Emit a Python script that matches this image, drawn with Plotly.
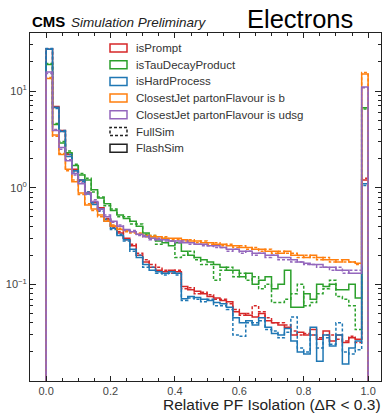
import plotly.graph_objects as go

# ---------------- data ----------------
bin_edges = [round(i * 0.02, 2) for i in range(51)]

categories = ["isPrompt", "isTauDecayProduct", "isHardProcess",
              "ClosestJet partonFlavour is b", "ClosestJet partonFlavour is udsg"]
colors = ["#d62728", "#2ca02c", "#1f77b4", "#ff7f0e", "#9467bd"]

prompt_flash = [27, 6.9, 3.9, 2.2, 1.55, 1.2, 0.88, 0.7, 0.62, 0.47, 0.4, 0.34, 0.3, 0.25, 0.2, 0.17, 0.15, 0.14, 0.135, 0.14,
                0.135, 0.095, 0.088, 0.085, 0.08, 0.075, 0.072, 0.068, 0.066, 0.052, 0.05, 0.048, 0.046, 0.05, 0.042, 0.04, 0.038, 0.036, 0.03, 0.032,
                0.03, 0.034, 0.027, 0.033, 0.026, 0.03, 0.025, 0.028, 0.027, 1.2]
prompt_full = [27.3, 6.7, 3.8, 2.25, 1.5, 1.18, 0.9, 0.72, 0.6, 0.48, 0.39, 0.35, 0.29, 0.26, 0.21, 0.18, 0.16, 0.15, 0.14, 0.13,
               0.14, 0.09, 0.092, 0.08, 0.083, 0.078, 0.07, 0.07, 0.063, 0.055, 0.048, 0.05, 0.06, 0.052, 0.045, 0.04, 0.04, 0.038, 0.033, 0.03,
               0.031, 0.03, 0.028, 0.03, 0.03, 0.027, 0.026, 0.029, 0.025, 1.25]
tau_flash = [18.8, 4.5, 2.9, 2.3, 1.7, 1.35, 1.2, 0.95, 0.78, 0.68, 0.58, 0.52, 0.48, 0.45, 0.4, 0.34, 0.3, 0.28, 0.27, 0.25,
             0.27, 0.22, 0.2, 0.19, 0.18, 0.17, 0.16, 0.15, 0.14, 0.14, 0.12, 0.13, 0.1, 0.11, 0.12, 0.09, 0.1, 0.14, 0.058, 0.058,
             0.08, 0.07, 0.1, 0.095, 0.1, 0.088, 0.088, 0.1, 0.072, 6.7]
tau_full = [19.2, 4.6, 3.0, 2.4, 1.75, 1.4, 1.25, 0.9, 0.8, 0.65, 0.6, 0.5, 0.5, 0.42, 0.42, 0.33, 0.32, 0.26, 0.3, 0.28,
            0.19, 0.2, 0.22, 0.18, 0.16, 0.16, 0.11, 0.14, 0.15, 0.12, 0.13, 0.11, 0.12, 0.09, 0.1, 0.065, 0.065, 0.07, 0.08, 0.1,
            0.06, 0.065, 0.08, 0.09, 0.11, 0.075, 0.07, 0.06, 0.034, 6.5]
hard_flash = [27, 6.8, 3.8, 2.1, 1.5, 1.2, 0.86, 0.67, 0.6, 0.45, 0.38, 0.32, 0.29, 0.23, 0.19, 0.16, 0.14, 0.135, 0.13, 0.135,
              0.13, 0.071, 0.075, 0.073, 0.07, 0.068, 0.065, 0.063, 0.058, 0.045, 0.04, 0.042, 0.038, 0.045, 0.036, 0.031, 0.03, 0.035, 0.026, 0.02,
              0.019, 0.036, 0.016, 0.03, 0.023, 0.03, 0.015, 0.022, 0.026, 1.1]
hard_full = [27.5, 6.6, 3.9, 2.2, 1.45, 1.15, 0.9, 0.7, 0.57, 0.47, 0.37, 0.33, 0.28, 0.22, 0.2, 0.15, 0.15, 0.13, 0.125, 0.13,
             0.125, 0.068, 0.072, 0.07, 0.066, 0.07, 0.06, 0.06, 0.055, 0.03, 0.029, 0.04, 0.04, 0.042, 0.034, 0.033, 0.028, 0.032, 0.046, 0.022,
             0.02, 0.03, 0.022, 0.028, 0.024, 0.04, 0.02, 0.019, 0.021, 1.05]
b_flash = [13.5, 3.5, 2.2, 1.55, 1.15, 0.88, 0.66, 0.6, 0.52, 0.45, 0.4, 0.37, 0.36, 0.35, 0.33, 0.32, 0.31, 0.31, 0.3, 0.3,
           0.3, 0.29, 0.28, 0.28, 0.27, 0.27, 0.26, 0.26, 0.25, 0.25, 0.24, 0.24, 0.23, 0.23, 0.22, 0.22, 0.21, 0.22, 0.2, 0.2,
           0.19, 0.2, 0.19, 0.18, 0.18, 0.17, 0.18, 0.17, 0.165, 15]
b_full = [13.8, 3.4, 2.25, 1.5, 1.2, 0.85, 0.68, 0.58, 0.5, 0.46, 0.41, 0.38, 0.35, 0.34, 0.34, 0.31, 0.32, 0.3, 0.31, 0.29,
          0.29, 0.28, 0.29, 0.27, 0.28, 0.26, 0.27, 0.25, 0.26, 0.24, 0.25, 0.23, 0.24, 0.22, 0.23, 0.21, 0.22, 0.21, 0.21, 0.19,
          0.2, 0.19, 0.18, 0.19, 0.17, 0.18, 0.17, 0.17, 0.16, 15.5]
udsg_flash = [15.7, 3.9, 2.6, 1.9, 1.4, 1.1, 0.88, 0.72, 0.6, 0.5, 0.45, 0.4, 0.37, 0.35, 0.33, 0.31, 0.3, 0.29, 0.29, 0.28,
              0.28, 0.27, 0.27, 0.26, 0.26, 0.25, 0.25, 0.24, 0.23, 0.23, 0.22, 0.22, 0.21, 0.21, 0.2, 0.2, 0.19, 0.19, 0.18, 0.17,
              0.165, 0.16, 0.16, 0.15, 0.15, 0.14, 0.14, 0.13, 0.13, 11]
udsg_full = [15.2, 4.0, 2.5, 1.95, 1.35, 1.12, 0.85, 0.75, 0.58, 0.52, 0.44, 0.41, 0.36, 0.36, 0.32, 0.32, 0.29, 0.3, 0.28, 0.28,
             0.27, 0.28, 0.26, 0.26, 0.25, 0.25, 0.24, 0.24, 0.22, 0.23, 0.21, 0.22, 0.2, 0.21, 0.19, 0.2, 0.18, 0.18, 0.17, 0.17,
             0.16, 0.16, 0.15, 0.15, 0.14, 0.15, 0.13, 0.14, 0.14, 10.8]

flash_series = [prompt_flash, tau_flash, hard_flash, b_flash, udsg_flash]
full_series = [prompt_full, tau_full, hard_full, b_full, udsg_full]

x_tick_vals = [0.0, 0.2, 0.4, 0.6, 0.8, 1.0]
x_tick_text = ["0.0", "0.2", "0.4", "0.6", "0.8", "1.0"]
y_tick_vals = [0.1, 1, 10]
y_tick_text = ["10<sup>\u22121</sup>", "10<sup>0</sup>", "10<sup>1</sup>"]

FONT = "Liberation Sans, Arial, sans-serif"
FLOOR = 1e-4  # histogram step starts/ends at zero (below visible log range)

fig = go.Figure()


def step_trace(values, color, dash):
    xs = [bin_edges[0]] + bin_edges[:-1] + [bin_edges[-1], bin_edges[-1]]
    ys = [FLOOR] + list(values) + [values[-1], FLOOR]
    return go.Scatter(x=xs, y=ys, mode="lines", line=dict(color=color, width=1.5, dash=dash, shape="hv"),
                      showlegend=False, hoverinfo="skip")


for full, flash, col in zip(full_series, flash_series, colors):
    fig.add_trace(step_trace(full, col, "3px,2px"))
    fig.add_trace(step_trace(flash, col, "solid"))

# ---------------- layout ----------------
W, H = 382, 414
ML, MR, MT, MB = 30, 1, 33, 33
PW, PH = W - ML - MR, H - MT - MB


def px_x(p):
    return (p - ML) / PW


def px_y(p):
    return (H - MB - p) / PH


minor_y = [v * 10 ** e for e in (-2, -1, 0, 1) for v in range(2, 10) if v * 10 ** e < 40]

fig.update_layout(
    width=W, height=H,
    margin=dict(l=ML, r=MR, t=MT, b=MB),
    paper_bgcolor="white", plot_bgcolor="white",
    font=dict(family=FONT, color="#222", size=11),
    showlegend=False,
    xaxis=dict(range=[-0.05, 1.04], tickvals=x_tick_vals, ticktext=x_tick_text,
               ticks="inside", ticklen=5, tickwidth=1, tickcolor="#222",
               showline=True, linecolor="#222", linewidth=1, mirror="ticks",
               showgrid=False, zeroline=False, tickfont=dict(size=11, color="#444"),
               minor=dict(dtick=0.05, tick0=0, ticks="inside", ticklen=3, tickcolor="#222", showgrid=False)),
    yaxis=dict(type="log", range=[-2, 1.6], tickvals=y_tick_vals, ticktext=y_tick_text,
               ticks="inside", ticklen=6, tickwidth=1, tickcolor="#222",
               showline=True, linecolor="#222", linewidth=1, mirror="ticks",
               showgrid=False, zeroline=False, tickfont=dict(size=11, color="#444"),
               minor=dict(tickvals=minor_y, ticks="inside", ticklen=3, tickcolor="#222", showgrid=False)),
)

annotations = [
    dict(text="<b>CMS</b>", x=px_x(30), y=px_y(21.5), xref="paper", yref="paper", xanchor="left", yanchor="middle",
         showarrow=False, font=dict(size=15, color="black", family=FONT)),
    dict(text="<i>Simulation Preliminary</i>", x=px_x(69), y=px_y(22), xref="paper", yref="paper",
         xanchor="left", yanchor="middle", showarrow=False, font=dict(size=13.5, color="#222", family=FONT)),
    dict(text="Electrons", x=px_x(245), y=px_y(19), xref="paper", yref="paper", xanchor="left", yanchor="middle",
         showarrow=False, font=dict(size=25.5, color="black", family=FONT)),
    dict(text="Relative PF Isolation (\u0394R < 0.3)", x=px_x(383), y=px_y(404), xref="paper", yref="paper",
         xanchor="right", yanchor="middle", showarrow=False, font=dict(size=15.5, color="#222", family=FONT)),
]

# ---------------- legend (drawn manually with outlined boxes) ----------------
legend_labels = categories + ["FullSim", "FlashSim"]
legend_colors = colors + ["#222", "#222"]
legend_dash = ["solid"] * 5 + ["dash", "solid"]
shapes = []
y0_leg, dy_leg = 48, 16.7
for i, (lab, col, ds) in enumerate(zip(legend_labels, legend_colors, legend_dash)):
    yc = y0_leg + i * dy_leg
    shapes.append(dict(type="rect", xref="paper", yref="paper",
                       x0=px_x(110), x1=px_x(127), y0=px_y(yc + 4), y1=px_y(yc - 4),
                       line=dict(color=col, width=1.5, dash="3px,2px" if ds == "dash" else "solid"),
                       fillcolor="rgba(0,0,0,0)"))
    annotations.append(dict(text=lab, x=px_x(134), y=px_y(yc), xref="paper", yref="paper",
                            xanchor="left", yanchor="middle", showarrow=False,
                            font=dict(size=11.5, color="#333", family=FONT)))

fig.update_layout(annotations=annotations, shapes=shapes)

fig.write_html("out.html")
